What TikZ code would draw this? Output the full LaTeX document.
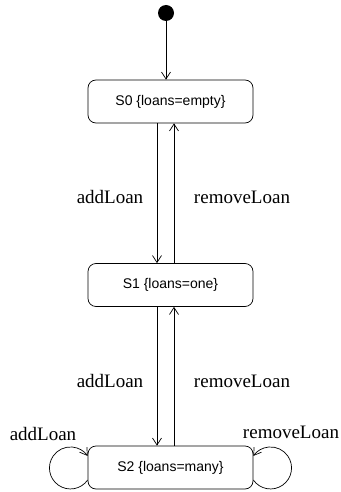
\documentclass[tikz,border=0pt]{standalone}
\usepackage{fontspec}
\setmainfont{Liberation Serif}
\setsansfont{Liberation Sans}
\usetikzlibrary{arrows.meta}
\begin{document}
\begin{tikzpicture}[x=1pt,y=-1pt,
  state/.style={draw, rounded corners=8pt, minimum width=165pt, minimum height=43pt, inner sep=0pt,
    font=\sffamily\fontsize{14}{16}\selectfont, line width=0.7pt},
  evlabel/.style={font=\fontsize{19}{22}\selectfont, inner sep=0pt},
  trans/.style={line width=0.7pt, -{Straight Barb[length=7pt,width=9pt,line width=0.7pt]}}]
\useasboundingbox (0,0) rectangle (340,492);
\fill (166,13) circle[radius=8] coordinate (init);
\node[state] (s0) at (170.5,101.5) {S0 \{loans=empty\}};
\node[state] (s1) at (170.5,285) {S1 \{loans=one\}};
\node[state] (s2) at (170.5,467.5) {S2 \{loans=many\}};
\coordinate (dn) at (157,0);
\coordinate (up) at (174,0);
\draw[trans] (init) -- (init |- s0.north);
\draw[trans] (dn |- s0.south) -- (dn |- s1.north);
\draw[trans] (up |- s1.north) -- (up |- s0.south);
\draw[trans] (dn |- s1.south) -- (dn |- s2.north);
\draw[trans] (up |- s2.north) -- (up |- s1.south);
\draw[trans] ([yshift=-12.5pt]s2.west) arc[start angle=-35, end angle=-325, radius=21pt];
\draw[trans] ([yshift=-12.5pt]s2.east) arc[start angle=215, end angle=505, radius=21pt];
\node[evlabel] (l1) at (110,197) {addLoan};
\node[evlabel] (l2) at (242,197) {removeLoan};
\node[evlabel] (l3) at (110,381) {addLoan};
\node[evlabel] (l4) at (242,381) {removeLoan};
\node[evlabel] (l5) at (43,434) {addLoan};
\node[evlabel] (l6) at (291,432) {removeLoan};
\end{tikzpicture}
\end{document}
